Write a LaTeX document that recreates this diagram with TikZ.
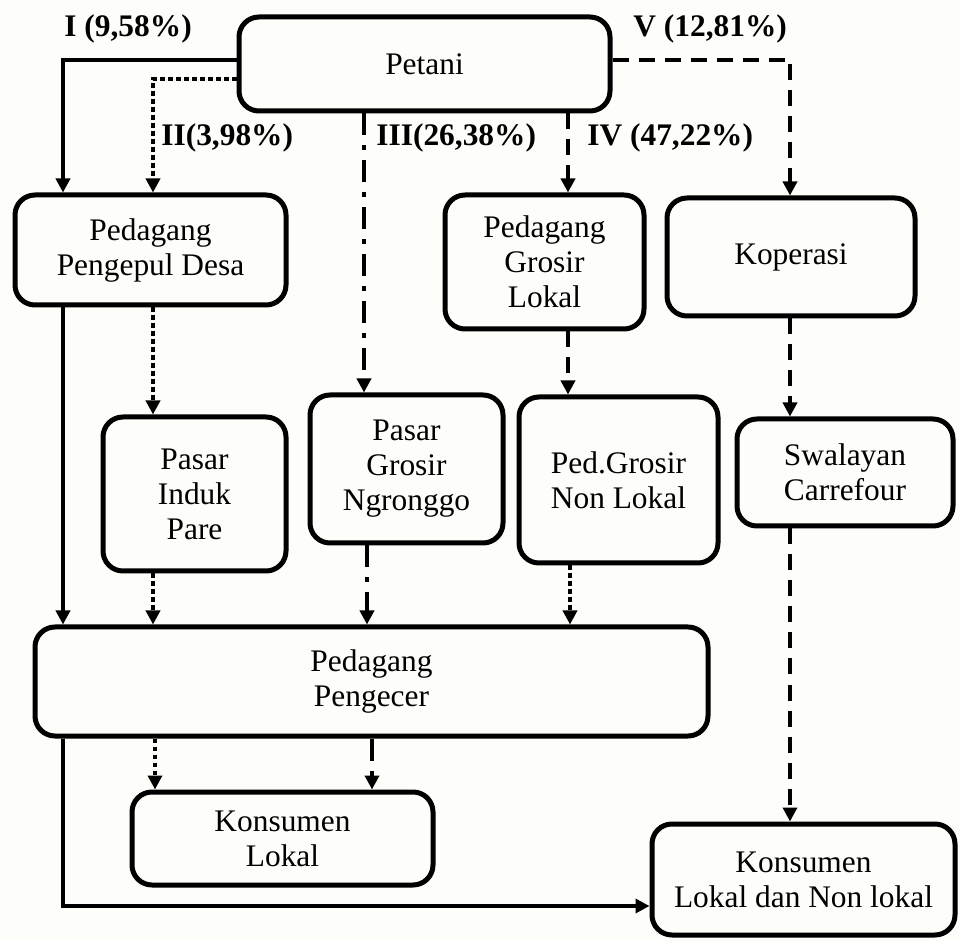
\documentclass[tikz,border=0pt]{standalone}
\usepackage{fontspec}
\setmainfont{Liberation Serif}
\usetikzlibrary{positioning, arrows.meta}
\definecolor{sfondo}{RGB}{253,253,249}

\begin{document}
\begin{tikzpicture}[x=0.5pt, y=-0.5pt, >={Triangle[length=7pt, width=7pt]}, font=\fontsize{15.7pt}{17.5pt}\selectfont]
    % Stili
    \tikzstyle{block} = [draw, rectangle, rounded corners=10pt, line width=2.5pt, align=center, inner sep=2pt]
    \tikzstyle{etichetta} = [font=\fontsize{15.7pt}{17.5pt}\selectfont\bfseries, anchor=west, inner sep=0pt]
    \tikzstyle{linea} = [->, line width=1.8pt]
    \tikzstyle{puntini} = [linea, dash pattern=on 2.2pt off 1.8pt]
    \tikzstyle{tratti} = [linea, dash pattern=on 8pt off 5pt]
    \tikzstyle{trattopunto} = [linea, dash pattern=on 11pt off 5pt on 2.5pt off 5pt]

    % Sfondo
    \fill [sfondo] (0,0) rectangle (960,941);

    % Nodi
    \node [block, minimum width=185.5pt, minimum height=47pt] (petani) at (424.5,64) {Petani};
    \node [block, minimum width=135.5pt, minimum height=55pt] (pengepul) at (150.5,250) {Pedagang\\Pengepul Desa};
    \node [block, minimum width=99.5pt, minimum height=67pt] (grosirlokal) at (544.5,262) {Pedagang\\Grosir\\Lokal};
    \node [block, minimum width=124pt, minimum height=59pt] (koperasi) at (791,257) {Koperasi};
    \node [block, minimum width=91.5pt, minimum height=77pt] (induk) at (194.5,494) {Pasar\\Induk\\Pare};
    \node [block, minimum width=96.5pt, minimum height=74pt] (ngronggo) at (406.5,469) {Pasar\\Grosir\\Ngronggo};
    \node [block, minimum width=99.5pt, minimum height=83pt] (nonlokal) at (618.5,480) {Ped.Grosir\\Non Lokal};
    \node [block, minimum width=108pt, minimum height=53.5pt] (swalayan) at (845,472.5) {Swalayan\\Carrefour};
    \node [block, minimum width=336.5pt, minimum height=54.5pt] (pengecer) at (371.5,681.5) {Pedagang\\Pengecer};
    \node [block, minimum width=150.5pt, minimum height=46.5pt] (konlokal) at (282.5,838.5) {Konsumen\\Lokal};
    \node [block, minimum width=151.5pt, minimum height=55.5pt] (konnon) at (803.5,879.5) {Konsumen\\Lokal dan Non lokal};

    % Etichette dei canali
    \node [etichetta] (cI) at (64,29) {I (9,58\%)};
    \node [etichetta] (cII) at (161,138) {II(3,98\%)};
    \node [etichetta] (cIII) at (376,138) {III(26,38\%)};
    \node [etichetta] (cIV) at (587,138) {IV (47,22\%)};
    \node [etichetta] (cV) at (633,29) {V (12,81\%)};

    % Collegamenti
    \draw [linea] (petani.west |- 0,60) -| (63,0 |- pengepul.north);
    \draw [puntini] (petani.west |- 0,79) -| (153,0 |- pengepul.north);
    \draw [trattopunto] (364,0 |- petani.south) -- (364,0 |- ngronggo.north);
    \draw [tratti] (568,0 |- petani.south) -- (568,0 |- grosirlokal.north);
    \draw [tratti] (petani.east |- 0,60) -| (790,0 |- koperasi.north);

    \draw [puntini] (153,0 |- pengepul.south) -- (153,0 |- induk.north);
    \draw [tratti] (568,0 |- grosirlokal.south) -- (568,0 |- nonlokal.north);
    \draw [tratti] (790,0 |- koperasi.south) -- (790,0 |- swalayan.north);

    \draw [linea] (63,0 |- pengepul.south) -- (63,0 |- pengecer.north);
    \draw [puntini] (153,0 |- induk.south) -- (153,0 |- pengecer.north);
    \draw [trattopunto] (367,0 |- ngronggo.south) -- (367,0 |- pengecer.north);
    \draw [puntini] (570,0 |- nonlokal.south) -- (570,0 |- pengecer.north);

    \draw [puntini] (155,0 |- pengecer.south) -- (155,0 |- konlokal.north);
    \draw [trattopunto] (372,0 |- pengecer.south) -- (372,0 |- konlokal.north);
    \draw [linea] (63,0 |- pengecer.south) |- (konnon.west |- 0,906);
    \draw [tratti] (790,0 |- swalayan.south) -- (790,0 |- konnon.north);

\end{tikzpicture}
\end{document}
